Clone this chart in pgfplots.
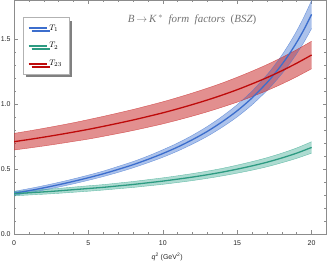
\documentclass[border=0pt]{standalone}
\usepackage{fontspec}
\setmainfont{Liberation Serif}
\newfontfamily\sansf{Liberation Sans}
\usepackage{pgfplots}
\usepackage{pgfplotstable}
\pgfplotsset{compat=1.18}
\usepgfplotslibrary{fillbetween}
\usetikzlibrary{shadows}

\definecolor{cB}{RGB}{60,110,205}
\definecolor{cBf}{RGB}{70,120,210}
\definecolor{cG}{RGB}{45,155,130}
\definecolor{cGf}{RGB}{60,170,145}
\definecolor{cR}{RGB}{190,10,10}
\definecolor{cRf}{RGB}{200,40,40}

\pgfplotstableread{
q f lo hi
0 0.313 0.298 0.328
1 0.333 0.317 0.349
2 0.355 0.338 0.372
3 0.379 0.361 0.397
4 0.405 0.386 0.424
5 0.433 0.413 0.453
6 0.463 0.442 0.484
7 0.497 0.474 0.520
8 0.533 0.509 0.557
9 0.574 0.548 0.600
10 0.619 0.590 0.648
11 0.669 0.638 0.700
12 0.726 0.692 0.760
13 0.790 0.752 0.828
14 0.864 0.822 0.906
15 0.948 0.901 0.995
16 1.047 0.994 1.100
17 1.164 1.103 1.225
17.5 1.231 1.165 1.297
18 1.304 1.232 1.376
18.5 1.385 1.305 1.465
19 1.475 1.387 1.563
19.5 1.576 1.478 1.674
20 1.689 1.581 1.797
}\tOne

\pgfplotstableread{
q f lo hi
0 0.310 0.293 0.327
1 0.317 0.300 0.334
2 0.324 0.306 0.342
3 0.332 0.313 0.351
4 0.341 0.321 0.361
5 0.350 0.329 0.371
6 0.359 0.338 0.380
7 0.370 0.348 0.392
8 0.381 0.358 0.404
9 0.394 0.370 0.418
10 0.407 0.382 0.432
11 0.422 0.396 0.448
12 0.438 0.411 0.465
13 0.456 0.428 0.484
14 0.476 0.447 0.505
15 0.499 0.468 0.530
16 0.524 0.491 0.557
17 0.552 0.517 0.587
18 0.585 0.548 0.622
19 0.622 0.582 0.662
20 0.666 0.622 0.710
}\tTwo

\pgfplotstableread{
q f lo hi
0 0.710 0.646 0.774
1 0.727 0.661 0.793
2 0.745 0.677 0.813
3 0.764 0.694 0.834
4 0.784 0.712 0.856
5 0.805 0.730 0.880
6 0.828 0.751 0.905
7 0.852 0.773 0.931
8 0.877 0.796 0.958
9 0.904 0.821 0.987
10 0.932 0.847 1.017
11 0.963 0.876 1.050
12 0.996 0.907 1.085
13 1.031 0.940 1.122
14 1.069 0.976 1.162
15 1.110 1.014 1.206
16 1.155 1.057 1.253
17 1.203 1.103 1.303
18 1.256 1.154 1.358
19 1.314 1.210 1.418
20 1.377 1.271 1.483
}\tThree

\begin{document}
\begin{tikzpicture}
\begin{axis}[
  at={(0,0)}, anchor=south west,
  scale only axis, width=312.5bp, height=234bp,
  xmin=0, xmax=21, ymin=0, ymax=1.8,
  xtick={0,5,10,15,20}, minor x tick num=4,
  ytick={0,0.5,1,1.5}, minor y tick num=4,
  yticklabel style={/pgf/number format/.cd, fixed, fixed zerofill, precision=1},
  /pgf/number format/assume math mode=true,
  tick align=inside, major tick length=4bp, minor tick length=2.4bp,
  tick style={black!45, line width=0.5bp},
  axis line style={black!45, line width=0.6bp},
  ticklabel style={font=\sansf\fontsize{7}{8}\selectfont, text=black!85},
  xticklabel style={yshift=-3bp},
  xlabel={\sansf\fontsize{7}{8}\selectfont\textit{q}\textsuperscript{2} (GeV\textsuperscript{2})},
  xlabel style={at={(axis description cs:0.49,0)}, anchor=center, yshift=-22.7bp, text=black!85},
  legend style={at={(0.028,0.926)}, anchor=north west, draw=black!30, fill=white, line width=0.5bp,
    font=\fontsize{8.5}{10}\selectfont, row sep=7bp, inner xsep=5bp, inner ysep=5bp,
    drop shadow={shadow xshift=3bp, shadow yshift=-3bp, fill=black!50, opacity=1}},
  legend cell align=left,
  legend image code/.code={\draw[#1, line width=1.3bp] (0bp,0bp) -- (18bp,0bp);},
]
% T1
\addplot[name path=Alo, draw=cBf, draw opacity=0.7, line width=0.4bp, smooth, forget plot] table[x=q,y=lo]{\tOne};
\addplot[name path=Ahi, draw=cBf, draw opacity=0.7, line width=0.4bp, smooth, forget plot] table[x=q,y=hi]{\tOne};
\addplot[cBf, fill opacity=0.45, draw=none, forget plot] fill between[of=Alo and Ahi];
% T2
\addplot[name path=Blo, draw=cGf, draw opacity=0.7, line width=0.4bp, smooth, forget plot] table[x=q,y=lo]{\tTwo};
\addplot[name path=Bhi, draw=cGf, draw opacity=0.7, line width=0.4bp, smooth, forget plot] table[x=q,y=hi]{\tTwo};
\addplot[cGf, fill opacity=0.42, draw=none, forget plot] fill between[of=Blo and Bhi];
% T23
\addplot[name path=Clo, draw=cRf, draw opacity=0.7, line width=0.4bp, smooth, forget plot] table[x=q,y=lo]{\tThree};
\addplot[name path=Chi, draw=cRf, draw opacity=0.7, line width=0.4bp, smooth, forget plot] table[x=q,y=hi]{\tThree};
\addplot[cRf, fill opacity=0.52, draw=none, forget plot] fill between[of=Clo and Chi];
% central lines
\addplot[cB, line width=1.3bp, smooth] table[x=q,y=f]{\tOne};
\addlegendentry{$T_1$}
\addplot[cG, line width=1.3bp, smooth] table[x=q,y=f]{\tTwo};
\addlegendentry{$T_2$}
\addplot[cR, line width=1.3bp, smooth] table[x=q,y=f]{\tThree};
\addlegendentry{$T_{23}$}
\node[text=black!55, font=\fontsize{11}{12}\selectfont] at (rel axis cs:0.57,0.915)
  {\textit{B}\,$\to$\,\textit{K}$^{\,*}$\ \ \textit{form}\ \ \textit{factors}\ \ (\textit{BSZ})};
\end{axis}
\pgfresetboundingbox
\path[use as bounding box] (-14bp,-31bp) rectangle (313bp,234bp);
\end{tikzpicture}
\end{document}
